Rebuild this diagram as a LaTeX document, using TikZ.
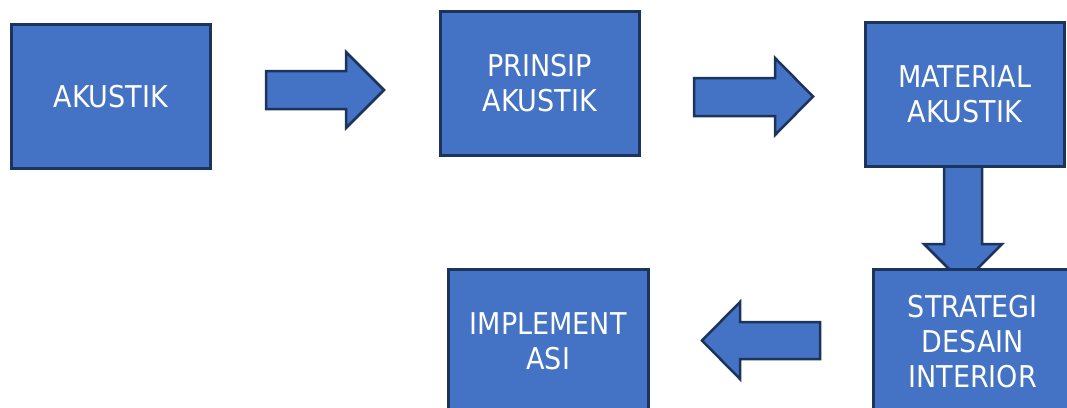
\documentclass[tikz,border=0pt]{standalone}
\usepackage{fontspec}
\setmainfont{DejaVu Sans Condensed}
\definecolor{boxfill}{HTML}{4472C4}
\definecolor{boxline}{HTML}{1C335C}
\begin{document}
\begin{tikzpicture}[x=1pt,y=-1pt,
  box/.style={draw=boxline, fill=boxfill, line width=2.5pt, text=white, align=center,
    font=\fontsize{30}{35}\selectfont, inner sep=0pt, minimum width=199pt,
    minimum height=144pt, anchor=north west},
  blockarrow/.style={draw=boxline, fill=boxfill, line width=2.5pt, line join=miter}]
\useasboundingbox (0,0) rectangle (1067,407);
% block arrows (drawn first, behind boxes)
\draw[blockarrow] (266,71) -- (346,71) -- (346,52) -- (384,90) -- (346,128) -- (346,109) -- (266,109) -- cycle;
\draw[blockarrow] (694,78) -- (775,78) -- (775,58) -- (813,96.5) -- (775,135) -- (775,116) -- (694,116) -- cycle;
\draw[blockarrow] (944,165) -- (982,165) -- (982,244) -- (1002,244) -- (963,283) -- (924,244) -- (944,244) -- cycle;
\draw[blockarrow] (820,322) -- (740,322) -- (740,302) -- (702,340.5) -- (740,379) -- (740,359) -- (820,359) -- cycle;
% boxes
\node[box] (akustik) at (10,23) {AKUSTIK};
\node[box] (prinsip) at (439,10) {PRINSIP\\AKUSTIK};
\node[box] (material) at (864,21) {MATERIAL\\AKUSTIK};
\node[box] (strategi) at (872,268) {STRATEGI\\DESAIN\\INTERIOR};
\node[box, minimum width=200pt] (impl) at (447,268) {IMPLEMENT\\ASI};
\end{tikzpicture}
\end{document}
